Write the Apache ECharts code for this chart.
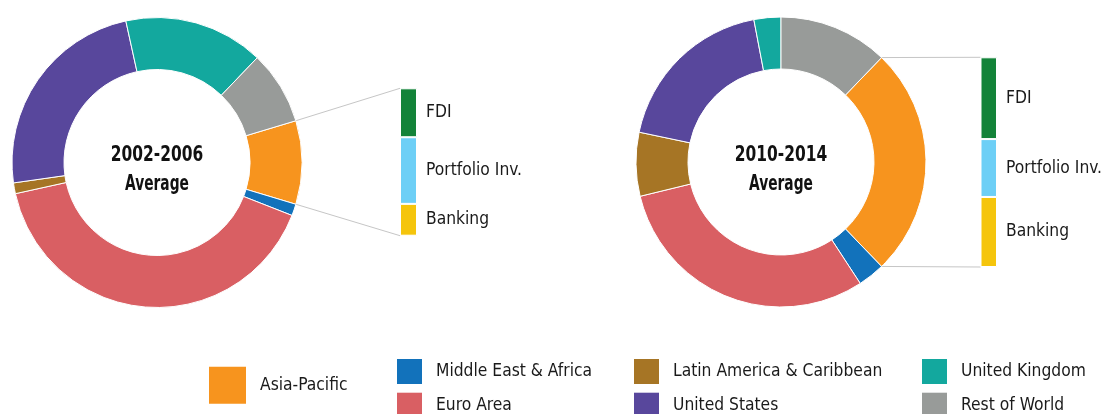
<!DOCTYPE html>
<html><head><meta charset="utf-8">
<script src="https://cdn.jsdelivr.net/npm/echarts@6/dist/echarts.min.js"></script>
<style>html,body{margin:0;padding:0;background:#fff}#c{width:1106px;height:414px}</style>
</head><body><div id="c"></div>
<script>
// ---- data ----
const regions = ['Asia-Pacific','Middle East & Africa','Euro Area','Latin America & Caribbean','United States','United Kingdom','Rest of World'];
const regionColors = ['#F7941E','#1272BB','#D95F63','#A67525','#58479C','#13A89E','#989B99'];
const share2002 = [9.3, 1.3, 40.6, 1.2, 23.8, 15.6, 8.2];
const share2010 = [25.6, 3.0, 30.4, 7.1, 18.7, 3.0, 12.2];
const periodLabels = ['2002-2006', '2010-2014'];
const centerSubLabel = 'Average';
const flowTypes = ['FDI', 'Portfolio Inv.', 'Banking'];
const flowColors = ['#138339', '#6DCFF6', '#F5C50C'];
const asiaFlows2002 = [33.2, 45.2, 21.6];
const asiaFlows2010 = [39.0, 27.6, 33.4];

// ---- layout ----
const FONT = '"DejaVu Sans Condensed", "Liberation Sans Narrow", "Roboto", sans-serif';
const FS = 17.3;
const TXT = '#1a1a1a';
const pies = [
  { center: [157, 162.5], shares: share2002 },
  { center: [781, 162], shares: share2010 }
];
const R_IN = 93, R_OUT = 145;
const barGrids = [
  { left: 400, top: 88.3, width: 17, height: 147.4, flows: asiaFlows2002 },
  { left: 980.5, top: 57.3, width: 16.5, height: 209.7, flows: asiaFlows2010 }
];

const sum = a => a.reduce((s, v) => s + v, 0);
const startAngles = pies.map(p => p.shares[0] / sum(p.shares) * 180);

const series = [];
pies.forEach((p, i) => {
  series.push({
    type: 'pie',
    center: p.center,
    radius: [R_IN, R_OUT],
    startAngle: startAngles[i],
    clockwise: true,
    silent: true,
    animation: false,
    label: { show: false },
    labelLine: { show: false },
    emphasis: { disabled: true, scale: false },
    itemStyle: { borderColor: '#fff', borderWidth: 1 },
    data: regions.map((name, k) => ({ name, value: p.shares[k], itemStyle: { color: regionColors[k] } }))
  });
});

barGrids.forEach((g, i) => {
  flowTypes.forEach((f, k) => {
    series.push({
      type: 'bar',
      name: f + i,
      xAxisIndex: i,
      yAxisIndex: i,
      stack: 'flows' + i,
      barWidth: '100%',
      silent: true,
      animation: false,
      itemStyle: { color: flowColors[k], borderColor: '#fff', borderWidth: 1 },
      label: {
        show: true, position: 'right', distance: 9,
        formatter: () => f,
        color: TXT, fontSize: FS, fontFamily: FONT
      },
      data: [g.flows[k]]
    });
  });
});

// connector lines (derived from pie geometry and the Asia-Pacific share) + centre titles
const graphics = [];
pies.forEach((p, i) => {
  const a = startAngles[i] * Math.PI / 180;
  const g = barGrids[i];
  const top = [p.center[0] + R_OUT * Math.cos(a), p.center[1] - R_OUT * Math.sin(a)];
  const bot = [p.center[0] + R_OUT * Math.cos(-a), p.center[1] - R_OUT * Math.sin(-a)];
  graphics.push({ type: 'line', z: -1, shape: { x1: top[0], y1: top[1], x2: g.left, y2: g.top }, style: { stroke: '#C6C6C6', lineWidth: 1 } });
  graphics.push({ type: 'line', z: -1, shape: { x1: bot[0], y1: bot[1], x2: g.left, y2: g.top + g.height }, style: { stroke: '#C6C6C6', lineWidth: 1 } });
  graphics.push({ type: 'text', x: p.center[0], y: p.center[1] - 7, scaleX: 0.78,
    style: { text: periodLabels[i], fontSize: 22, fontWeight: 'bold', fontFamily: FONT, fill: '#111', align: 'center', verticalAlign: 'middle' } });
  graphics.push({ type: 'text', x: p.center[0], y: p.center[1] + 22.5, scaleX: 0.73,
    style: { text: centerSubLabel, fontSize: 21, fontWeight: 'bold', fontFamily: FONT, fill: '#111', align: 'center', verticalAlign: 'middle' } });
});

// legend: one component per entry, in a 4-column arrangement
const legendSlots = [
  { left: 209, top: 366.7, size: 37 },
  { left: 397, top: 359, size: 25 },
  { left: 397, top: 392.7, size: 25 },
  { left: 634, top: 359, size: 25 },
  { left: 634, top: 392.7, size: 25 },
  { left: 922, top: 359, size: 25 },
  { left: 922, top: 392.7, size: 25 }
];
const legends = regions.map((name, k) => ({
  data: [name],
  left: legendSlots[k].left,
  top: legendSlots[k].top,
  itemWidth: legendSlots[k].size,
  itemHeight: legendSlots[k].size,
  icon: 'rect', padding: 0, selectedMode: false, orient: 'horizontal',
  itemStyle: { borderWidth: 0 },
  textStyle: { color: TXT, fontSize: FS, fontFamily: FONT, padding: [0, 0, 0, 9] }
}));

const chart = echarts.init(document.getElementById('c'), null, { renderer: 'canvas' });
chart.setOption({
  animation: false,
  backgroundColor: '#fff',
  grid: barGrids.map(g => ({ left: g.left, top: g.top, width: g.width, height: g.height, containLabel: false })),
  xAxis: barGrids.map((g, i) => ({ type: 'category', gridIndex: i, data: [''], show: false })),
  yAxis: barGrids.map((g, i) => ({ type: 'value', gridIndex: i, min: 0, max: 100, inverse: true, show: false })),
  legend: legends,
  graphic: graphics,
  series
});
</script>
</body></html>
